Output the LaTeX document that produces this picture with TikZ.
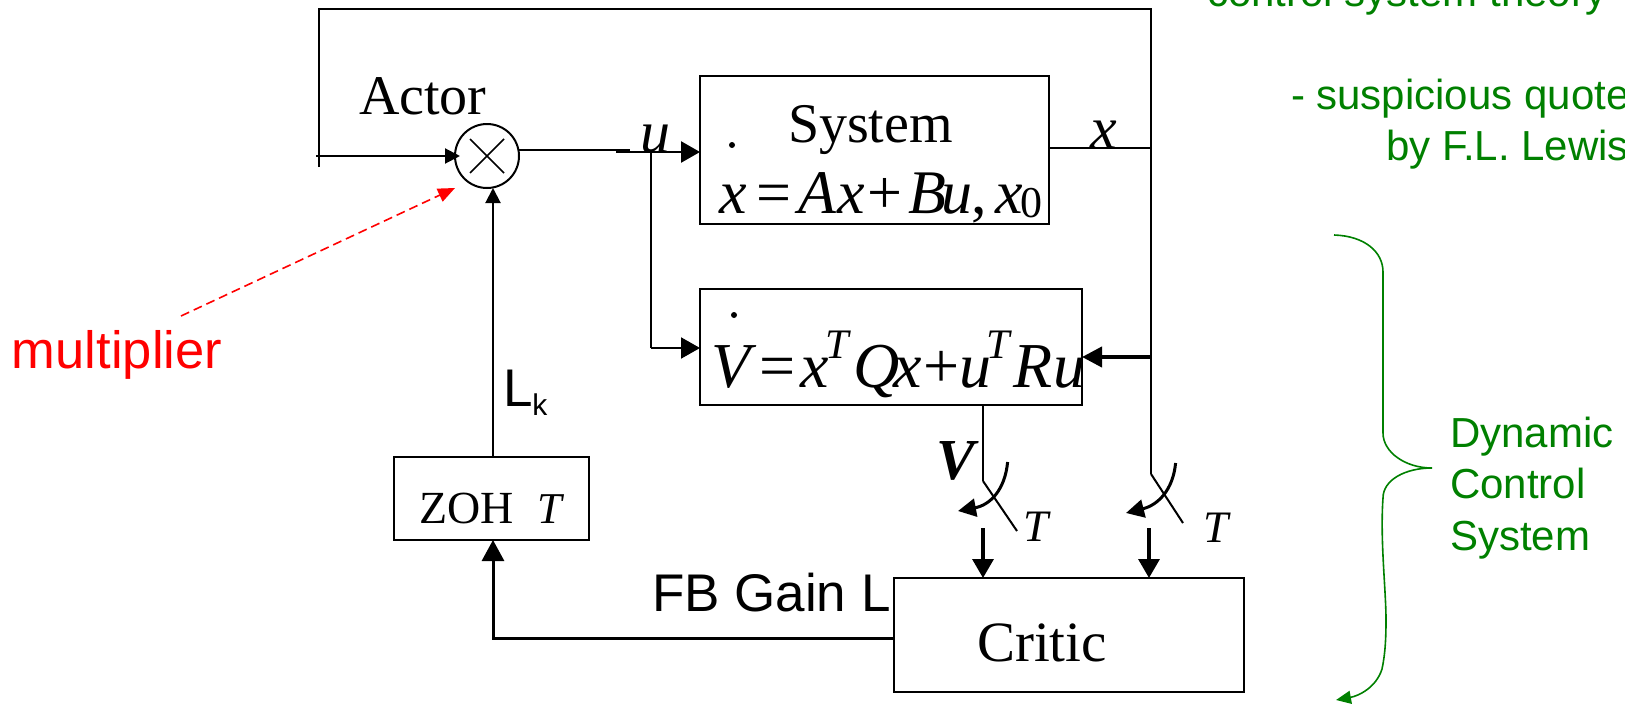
\documentclass[tikz,border=0pt]{standalone}
\usepackage{fontspec}
\setmainfont{Liberation Serif}
\newfontfamily\arialf{Liberation Sans}
\usetikzlibrary{arrows.meta}
\definecolor{dgreen}{RGB}{0,128,0}
\newcommand{\gl}[2]{\makebox[#1pt][l]{#2}}
\newcommand{\fs}[1]{\fontsize{#1}{#1}\selectfont}
\tikzset{
  x=1pt,y=-1pt,
  wire/.style={line width=2pt,line cap=butt},
  headS/.style={-{Triangle[length=15pt,width=15pt]}},
  headM/.style={-{Triangle[length=19pt,width=21pt]}},
  blockbox/.style={draw,line width=2pt,inner sep=0,outer sep=0,fill=white},
  txt/.style={inner sep=0,outer sep=0,anchor=base west},
  serifbig/.style={txt,font=\fs{56}},
  sanslabel/.style={txt,font=\arialf\fs{53}},
  greenlabel/.style={txt,font=\arialf\fs{42},text=dgreen},
  timelabel/.style={txt,font=\itshape\fs{45}},
  dotmark/.style={circle,fill=black,inner sep=0,minimum size=6pt},
  sw/.style={line width=2pt},
  swcurve/.style={line width=3pt,-{Triangle[length=18pt,width=18pt]}},
}
\begin{document}
\begin{tikzpicture}
\useasboundingbox (0,0) rectangle (1625,704);
\clip (0,0) rectangle (1625,704);
% blocks
\node[blockbox,minimum width=349pt,minimum height=148pt] (sys) at (874.5,150) {};
\node[blockbox,minimum width=382pt,minimum height=116pt] (lyap) at (891,347) {};
\node[blockbox,minimum width=350pt,minimum height=114pt] (critic) at (1069,635) {};
\node[blockbox,minimum width=195pt,minimum height=83pt] (zoh) at (491.5,498.5) {};
\node[draw,circle,line width=2pt,minimum size=64pt,inner sep=0,outer sep=0] (mult) at (487,156) {};
\draw[line width=1.6pt] (470,139) -- (504,173) (470,173) -- (504,139);
% coordinates
\coordinate (tl) at (319,9);
\coordinate (tr) at (1151,9);
\coordinate (inL) at (316,156);
\coordinate (inE) at (460,156);
\coordinate (tlb) at (319,167);
\coordinate (outS) at (519,150);
\coordinate (outE) at (630,150);
\coordinate (uS) at (616,152);
\coordinate (bj) at (651,152);
\coordinate (bv) at (651,348);
\coordinate (xj) at (1151,148);
\coordinate (vj) at (1151,357);
\coordinate (sw2a) at (1151,474);
\coordinate (sw2b) at (1183,523);
\coordinate (sw1a) at (983,481);
\coordinate (sw1b) at (1017,531);
\coordinate (d1s) at (983,528);
\coordinate (d2s) at (1149,528);
\coordinate (fb) at (493,638);
\coordinate (redS) at (181,316);
\coordinate (redE) at (455,188);
% wires
\draw[wire] (tlb) -- (tl) -- (tr) -- (sw2a);
\draw[wire,headS] (inL) -- (inE);
\draw[wire] (outS) -- (outE);
\draw[wire,line width=2.6pt,headM] (uS) -- (sys.west |- uS);
\draw[wire] (bj) -- (bv);
\draw[wire,headM] (bv) -- (lyap.west |- bv);
\draw[wire] (sys.east |- xj) -- (xj);
\draw[line width=4pt,-{Triangle[length=20pt,width=20pt]}] (vj) -- (lyap.east |- vj);
\draw[wire] (sw1a |- lyap.south) -- (sw1a);
\draw[sw] (sw1a) -- (sw1b);
\draw[sw] (sw2a) -- (sw2b);
\draw[swcurve] (1007.6,462) .. controls (1005,490) and (990,505) .. (958,511);
\draw[swcurve] (1175.6,463) .. controls (1173,490) and (1158,505) .. (1126,513);
\draw[line width=3.4pt,headM] (d1s) -- (d1s |- critic.north);
\draw[line width=3.4pt,headM] (d2s) -- (d2s |- critic.north);
\draw[line width=3pt,-{Triangle[length=21pt,width=22pt]}] (critic.west |- fb) -- (fb) -- (fb |- zoh.south);
\draw[wire,headS] (fb |- zoh.north) -- (fb |- mult.south);
\draw[red,line width=1.6pt,dashed,dash pattern=on 9pt off 5pt,-{Triangle[length=17pt,width=14pt]}] (redS) -- (redE);
% brace
\draw[dgreen,line width=1.6pt,-{Triangle[length=15pt,width=13pt]}]
  (1334,235) .. controls (1365,236) and (1383,252) .. (1383,272)
  -- (1383,433) .. controls (1383,452) and (1405,468) .. (1432,468)
  .. controls (1405,468) and (1383,480) .. (1383,498)
  .. controls (1380,540) and (1386,590) .. (1386,620)
  .. controls (1386,640) and (1385,655) .. (1382,669)
  .. controls (1376,688) and (1358,696) .. (1336,700);
% labels
\node[serifbig] (actor) at (359,114) {Actor};
\node[txt,font=\itshape\fs{60}] (ulab) at (640,152) {u};
\node[serifbig] (systxt) at (788,142) {System};
\node[dotmark] (dot1) at (732,145) {};
\node[txt,font=\fs{62}] (eq1) at (719,213) {\gl{37}{\itshape x}\gl{42}{=}\gl{39}{\itshape A}\gl{30}{\itshape x}\gl{41}{+}\gl{33}{\itshape B}\gl{30}{\itshape u}\gl{24}{,}\gl{25}{\itshape x}\raisebox{-4pt}{\fs{44}0}};
\node[txt,font=\itshape\fs{60}] (xlab) at (1090,148) {x};
\node[dotmark] (dot2) at (734,315) {};
\node[txt,font=\fs{64}] (eq2) at (711,387) {\gl{48}{\itshape V}\gl{41}{=}\gl{25}{\itshape x}\gl{28}{\raisebox{29pt}{\fs{42}\itshape T}}\gl{40}{\itshape Q}\gl{30}{\itshape x}\gl{36}{+}\gl{27}{\itshape u}\gl{27}{\raisebox{29pt}{\fs{42}\itshape T}}\gl{40}{\itshape R}{\itshape u}};
\node[txt,font=\bfseries\itshape\fs{58}] (vlab) at (936,479) {V};
\node[timelabel] (t1) at (1023,541) {T};
\node[timelabel] (t2) at (1203,542) {T};
\node[txt,font=\fs{46}] (zohtxt) at (419,523) {ZOH};
\node[txt,font=\itshape\fs{44}] (zoht) at (537,523) {T};
\node[txt,font=\fs{57}] (crit) at (977,661) {Critic};
\node[sanslabel] (lk) at (503,406) {L\raisebox{-9pt}{\fs{30}k}};
\node[sanslabel] (fbl) at (652,611) {FB Gain L};
\node[txt,font=\arialf\fs{52.5},text=red] (mul) at (12,368) {multiplier};
\node[greenlabel] (q1) at (1207,6) {control system theory};
\node[greenlabel] (q2) at (1291,109) {- suspicious quote};
\node[greenlabel] (q3) at (1386,160) {by F.L. Lewis};
\node[greenlabel] (d1) at (1450,447) {Dynamic};
\node[greenlabel] (d2) at (1450,498) {Control};
\node[greenlabel] (d3) at (1450,550) {System};
\end{tikzpicture}
\end{document}
